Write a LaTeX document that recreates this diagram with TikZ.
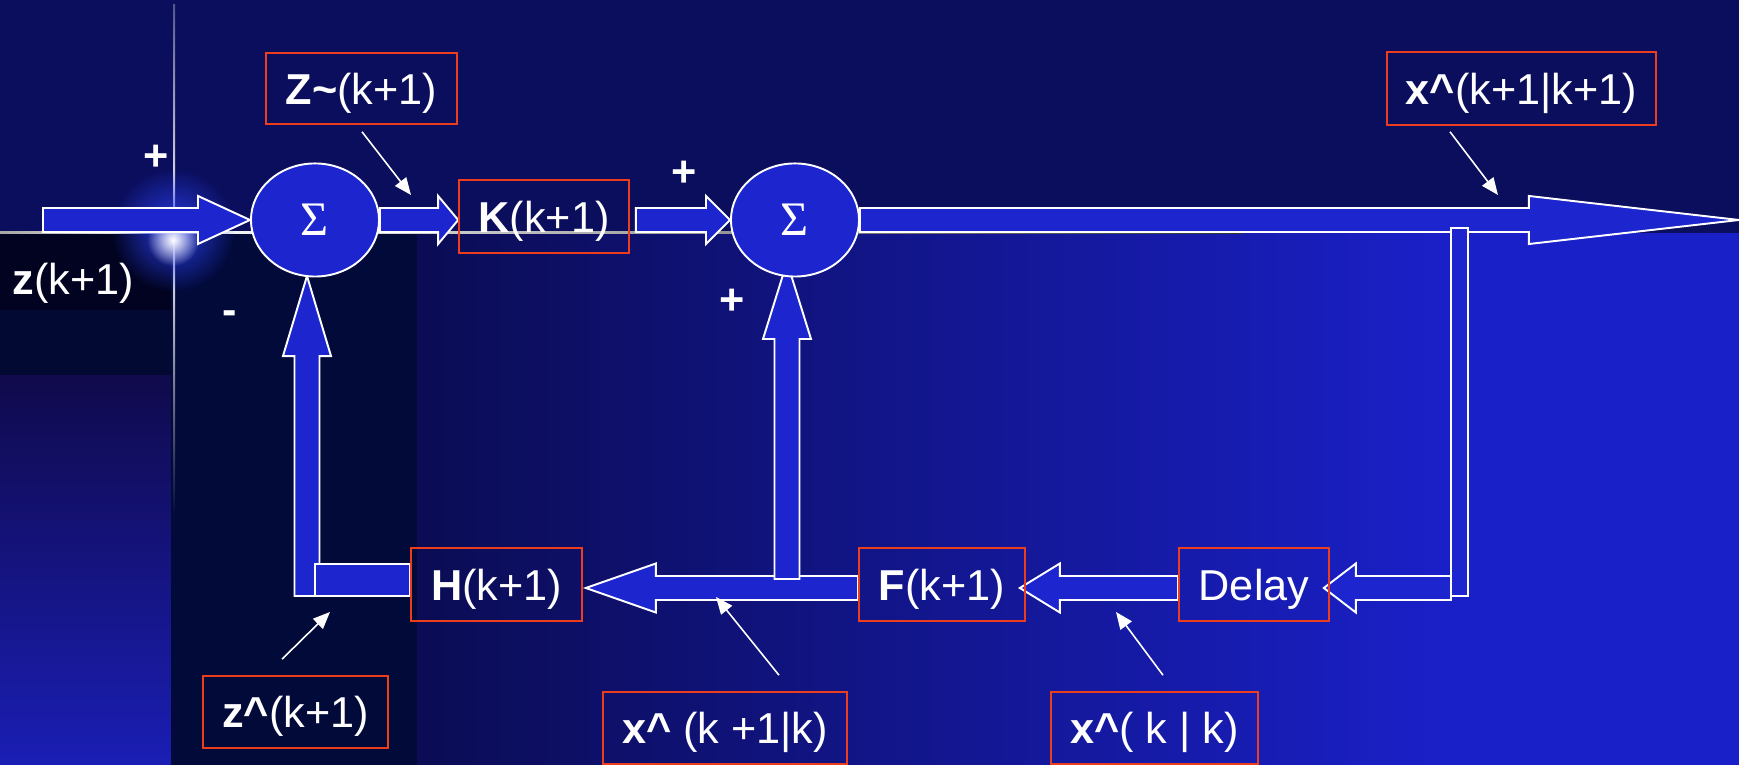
\documentclass[tikz,border=0pt]{standalone}
\usepackage{fontspec}
\setmainfont{Liberation Sans}
\newfontfamily\sigmafont{Liberation Serif}
\usetikzlibrary{calc,shapes.geometric,arrows.meta,fadings}
\tikzfading[name=glowfade, inner color=transparent!0, outer color=transparent!100]
\pgfdeclarelayer{bgl}
\pgfdeclarelayer{arrl}
\pgfsetlayers{bgl,arrl,main}
\definecolor{topnavy}{RGB}{11,14,92}
\definecolor{arrowblue}{RGB}{28,37,206}
\definecolor{boxred}{RGB}{236,62,28}
\definecolor{darkband}{RGB}{1,3,32}
\definecolor{darkleft}{RGB}{2,10,52}
\definecolor{darkmid}{RGB}{2,10,58}
\definecolor{purp}{RGB}{16,10,76}
\definecolor{lowblue}{RGB}{26,30,180}
\definecolor{gradL}{RGB}{11,12,84}
\definecolor{gradR}{RGB}{26,32,200}
\definecolor{glowblue}{RGB}{40,60,230}
\newcommand\lab{\fontsize{12.3}{14}\selectfont}
% #1 start, #2 tip, #3 head length, #4 shaft half width, #5 head half width
\newcommand\blockarrow[5]{%
  \coordinate (bahb) at ($(#2)!#3!(#1)$);
  \draw[barrow] ($(#1)!#4!90:(#2)$) -- ($(bahb)!#4!90:(#2)$) -- ($(bahb)!#5!90:(#2)$)
    -- (#2) -- ($(bahb)!#5!-90:(#2)$) -- ($(bahb)!#4!-90:(#2)$) -- ($(#1)!#4!-90:(#2)$) -- cycle;}
\tikzset{
  barrow/.style={fill=arrowblue, draw=white, line width=0.55pt, line join=miter},
  sumnode/.style={ellipse, fill=arrowblue, draw=white, line width=0.55pt,
    minimum width=1.28cm, minimum height=1.13cm, inner sep=0pt, text=white,
    font=\sigmafont\fontsize{13.7}{15}\selectfont},
  box/.style={draw=boxred, line width=0.45pt, inner sep=0pt, text depth=0pt,
    text=white, font=\lab, minimum height=0.73cm},
  lbl/.style={inner sep=0pt, text depth=0pt, text=white, font=\lab},
  sign/.style={inner sep=0pt, text=white, font=\lab\bfseries},
  ptr/.style={draw=white, line width=0.45pt, -{Triangle[length=0.17cm,width=0.14cm]}}
}
\begin{document}
\begin{tikzpicture}[x=0.01cm,y=-0.01cm]
\useasboundingbox (0,0) rectangle (1739,765);
% ---------- background ----------
\begin{pgfonlayer}{bgl}
\fill[topnavy] (0,0) rectangle (1739,765);
\fill[darkband] (0,233) rectangle (171,310);
\fill[darkleft] (0,310) rectangle (171,376);
\shade[top color=purp, bottom color=lowblue] (0,376) rectangle (171,765);
\fill[darkmid] (171,233) rectangle (417,765);
\shade[left color=gradL, right color=gradR] (417,233) rectangle (1450,765);
\fill[gradR] (1449,233) rectangle (1739,765);
% cross lines
\shade[left color=gray!70, right color=white] (0,232) rectangle (174,234);
\shade[left color=white, right color=gray!40!black] (174,232) rectangle (1243,234);
\shade[top color=white!30!topnavy, bottom color=white] (173,5) rectangle (175,233);
\shade[top color=white, bottom color=darkmid] (173,233) rectangle (175,515);
% glow
\fill[glowblue, path fading=glowfade] (173,230) circle[radius=0.62cm];
\fill[white, path fading=glowfade] (173,240) circle[radius=0.26cm];
\end{pgfonlayer}

% ---------- nodes ----------
\node[sumnode] (s1) at (315,220) {Σ};
\node[sumnode] (s2) at (795,220) {Σ};
\node[box, minimum width=1.91cm, minimum height=0.71cm] (Ztil) at (361.5,88.5) {\textbf{Z\textasciitilde}(k+1)};
\node[box, minimum width=1.70cm] (K) at (544,216.5) {\textbf{K}(k+1)};
\node[box, minimum width=2.69cm] (xtop) at (1521.5,88.5) {\textbf{x\textasciicircum}(k+1|k+1)};
\node[box, minimum width=1.71cm] (H) at (496.5,584.5) {\textbf{H}(k+1)};
\node[box, minimum width=1.66cm] (F) at (942,584.5) {\textbf{F}(k+1)};
\node[box, minimum width=1.50cm] (D) at (1254,584.5) {Delay};
\node[box, minimum width=1.85cm, minimum height=0.72cm] (zhat) at (295.5,712) {\textbf{z\textasciicircum}(k+1)};
\node[box, minimum width=2.44cm, minimum height=0.72cm] (xkone) at (725,728) {\textbf{x\textasciicircum} (k +1|k)};
\node[box, minimum width=2.07cm, minimum height=0.72cm] (xkk) at (1154.5,728) {\textbf{x\textasciicircum}( k | k)};
\node[lbl] (zin) at (73.5,279) {\textbf{z}(k+1)};
\node[sign] (pa) at (156,158) {+};
\node[sign] (pb) at (684,174) {+};
\node[sign] (pc) at (732,302) {+};
\node[sign] (mi) at (230,318) {-};

% ---------- pointer arrows ----------
\coordinate (ptA) at (411,195);
\coordinate (ptB) at (1498,195);
\coordinate (ptC) at (330,612);
\coordinate (ptD) at (716,597);
\coordinate (ptE) at (1116,612);
\draw[ptr] ($(Ztil.south)+(0.5,7)$) -- (ptA);
\draw[ptr] ($(xtop.south)+(-71.5,6)$) -- (ptB);
\draw[ptr] ($(zhat.north)+(-13.5,-16)$) -- (ptC);
\draw[ptr] ($(xkone.north)+(54,-16)$) -- (ptD);
\draw[ptr] ($(xkk.north)+(8.5,-16)$) -- (ptE);

% ---------- block arrows ----------
\begin{pgfonlayer}{arrl}
\coordinate (inS) at (43,220);
\coordinate (outT) at (1739,220);
\blockarrow{inS}{s1.west}{0.52cm}{0.12cm}{0.24cm}
\coordinate (Ktip) at (s1.east -| K.west);
\blockarrow{s1.east}{Ktip}{0.20cm}{0.12cm}{0.24cm}
\coordinate (Kst) at ($(K.east |- s2.west)+(6,0)$);
\blockarrow{Kst}{s2.west}{0.24cm}{0.12cm}{0.24cm}
\blockarrow{s2.east}{outT}{2.10cm}{0.12cm}{0.24cm}
% tap down to delay
\draw[barrow] (1451,228) rectangle (1468,596);
\coordinate (tapL) at (1451,588);
\coordinate (Dtip) at ($(D.east)+(-6,3.5)$);
\blockarrow{tapL}{Dtip}{0.32cm}{0.12cm}{0.245cm}
\coordinate (Dw) at ($(D.west)+(0,3.5)$);
\coordinate (Ftip) at ($(F.east)+(-6,3.5)$);
\blockarrow{Dw}{Ftip}{0.40cm}{0.12cm}{0.245cm}
\coordinate (Fw) at ($(F.west)+(0,3.5)$);
\coordinate (Htip) at ($(H.east)+(3,3.5)$);
\blockarrow{Fw}{Htip}{0.70cm}{0.12cm}{0.245cm}
% feedback into second sum
\coordinate (vtwob) at (787,579);
\coordinate (vtwot) at (787,262);
\blockarrow{vtwob}{vtwot}{0.77cm}{0.125cm}{0.24cm}
% feedback into first sum
\coordinate (voneb) at (307,596);
\coordinate (vonet) at (307,276);
\blockarrow{voneb}{vonet}{0.80cm}{0.125cm}{0.24cm}
\draw[barrow] (315,564) rectangle ($(H.west)+(0,11.5)$);
\end{pgfonlayer}
\end{tikzpicture}
\end{document}
